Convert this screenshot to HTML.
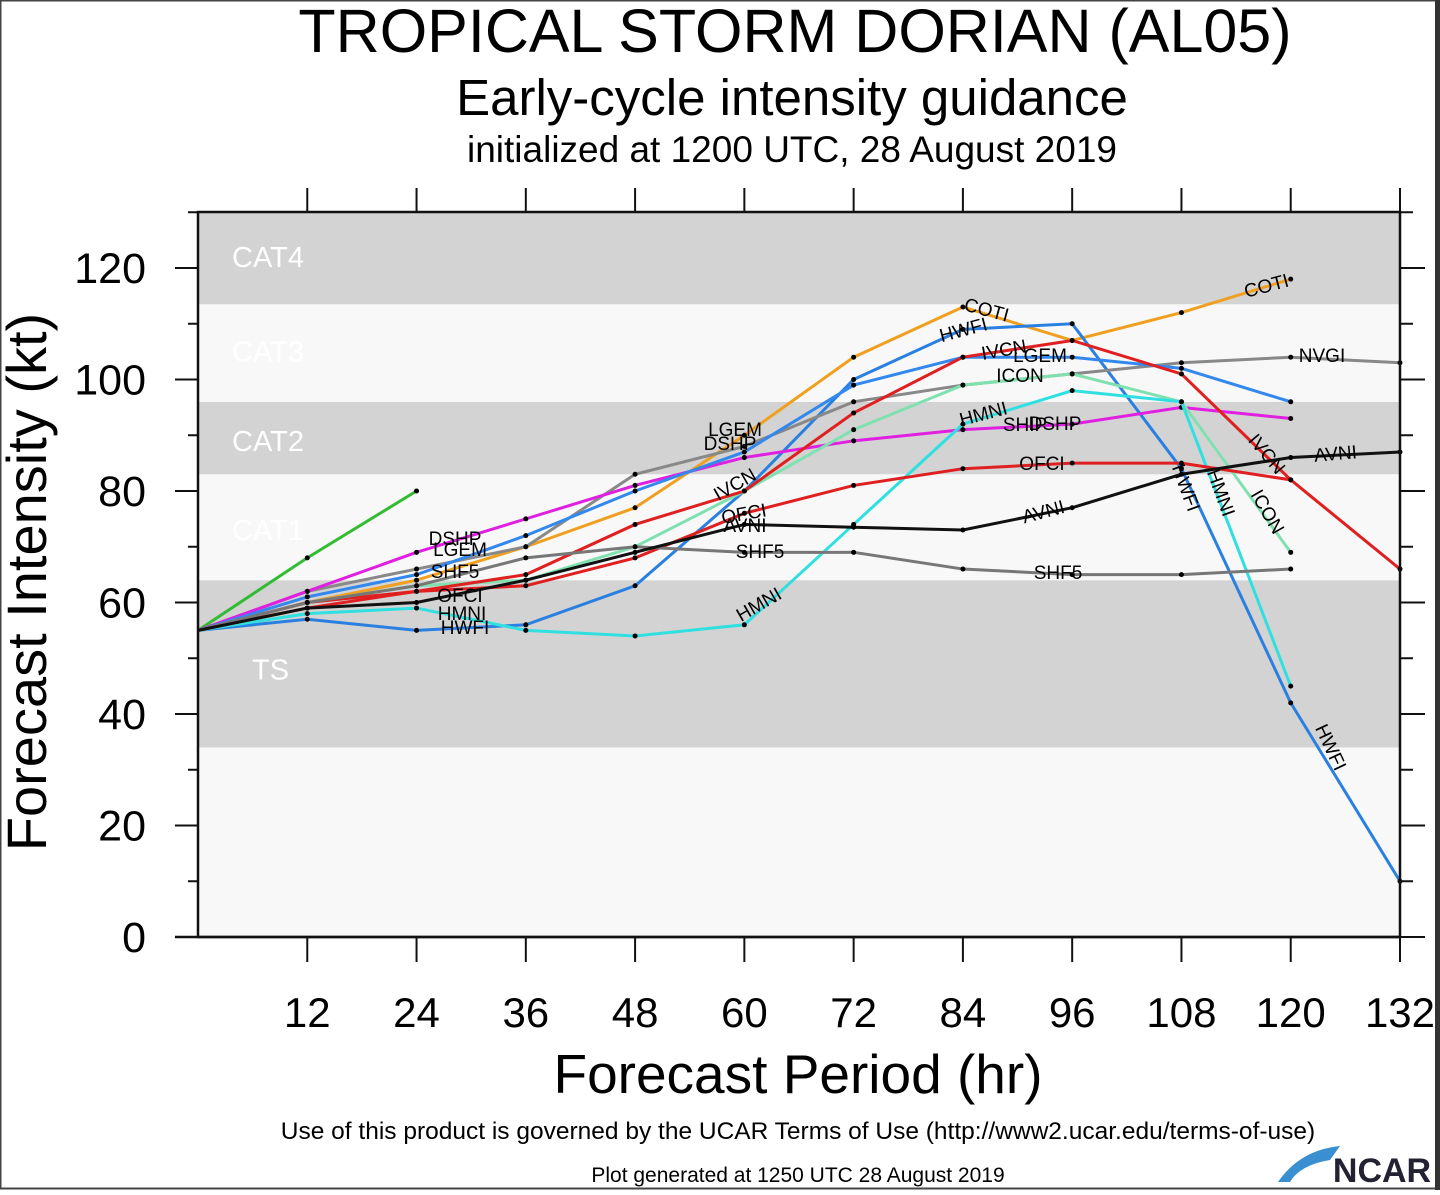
<!DOCTYPE html>
<html><head><meta charset="utf-8"><style>
html,body{margin:0;padding:0;background:#fff;}
body{width:1440px;height:1190px;overflow:hidden;position:relative;font-family:"Liberation Sans",sans-serif;}
svg text{font-family:"Liberation Sans",sans-serif;}
</style></head><body>
<svg id="s" width="1440" height="1190" xmlns="http://www.w3.org/2000/svg">
<rect x="0" y="0" width="1440" height="1190" fill="#fff"/>
<rect x="0.5" y="0.5" width="1436" height="1188" fill="none" stroke="#444" stroke-width="2"/>
<rect x="1435" y="0" width="5" height="1190" fill="#333"/>
<text x="795" y="52" font-size="61" text-anchor="middle">TROPICAL STORM DORIAN (AL05)</text>
<text x="792" y="115" font-size="51" text-anchor="middle">Early-cycle intensity guidance</text>
<text x="792" y="162" font-size="37" text-anchor="middle">initialized at 1200 UTC, 28 August 2019</text>
<g id="plot"></g>
<text x="798" y="1093" font-size="55" text-anchor="middle">Forecast Period (hr)</text>
<text transform="translate(46,582) rotate(-90)" font-size="56" text-anchor="middle">Forecast Intensity (kt)</text>
<text x="798" y="1139" font-size="24.5" text-anchor="middle">Use of this product is governed by the UCAR Terms of Use (http://www2.ucar.edu/terms-of-use)</text>
<text x="798" y="1182" font-size="21" text-anchor="middle">Plot generated at 1250 UTC   28 August 2019</text>
<path d="M1278 1182 Q1300 1150 1340 1146 L1330 1160 Q1300 1165 1290 1182 Z" fill="#3a8fd0"/>
<text x="1382" y="1182" font-size="34" font-weight="bold" fill="#223" text-anchor="middle">NCAR</text>
</svg>
<script>
var X=h=>198+h*9.106, Y=k=>937-k*5.575;
var g=document.getElementById('plot'),out='';
function band(a,b,c){out+=`<rect x="198" y="${Y(b)}" width="1202" height="${Y(a)-Y(b)}" fill="${c}"/>`;}
band(0,34,'#f8f8f8');band(34,64,'#d3d3d3');band(64,83,'#f8f8f8');band(83,96,'#d3d3d3');band(96,113.5,'#f8f8f8');band(113.5,130,'#d3d3d3');
[['CAT4',122],['CAT3',105],['CAT2',89],['CAT1',73],['TS',48]].forEach(c=>{out+=`<text x="${c[0]=='TS'?252:232}" y="${Y(c[1])+10}" font-size="29" fill="#fff">${c[0]}</text>`;});
var S=[
['#33bb33',[[0,55],[12,68],[24,80]]],
['#f0a020',[[0,55],[12,60],[24,64],[36,70],[48,77],[60,90],[72,104],[84,113],[96,107],[108,112],[120,118]]],
['#2a80e0',[[0,55],[12,57],[24,55],[36,56],[48,63],[60,80],[72,100],[84,109],[96,110],[108,84],[120,42],[132,10]]],
['#888888',[[0,55],[12,62],[24,66],[36,70],[48,83],[60,88],[72,96],[84,99],[96,101],[108,103],[120,104],[132,103]]],
['#e020e0',[[0,55],[12,62],[24,69],[36,75],[48,81],[60,86],[72,89],[84,91],[96,92],[108,95],[120,93]]],
['#3388ee',[[0,55],[12,61],[24,65],[36,72],[48,80],[60,87],[72,99],[84,104],[96,104],[108,102],[120,96]]],
['#80e0b0',[[0,55],[12,60],[24,63],[36,64],[48,70],[60,80],[72,91],[84,99],[96,101],[108,96],[120,69]]],
['#30e0e0',[[0,55],[12,58],[24,59],[36,55],[48,54],[60,56],[72,74],[84,92],[96,98],[108,96],[120,45]]],
['#e02020',[[0,55],[12,60],[24,62],[36,65],[48,74],[60,80],[72,94],[84,104],[96,107],[108,101],[120,82]]],
['#e02020',[[0,55],[12,59],[24,62],[36,63],[48,68],[60,76],[72,81],[84,84],[96,85],[108,85],[120,82],[132,66]]],
['#777777',[[0,55],[12,60],[24,63],[36,68],[48,70],[60,69],[72,69],[84,66],[96,65],[108,65],[120,66]]],
['#111111',[[0,55],[12,59],[24,60],[36,64],[48,69],[60,74],[72,73.5],[84,73],[96,77],[108,83],[120,86],[132,87]]]
];
S.forEach(s=>{out+=`<polyline fill="none" stroke="${s[0]}" stroke-width="3" points="${s[1].map(p=>X(p[0])+','+Y(p[1])).join(' ')}"/>`;
s[1].forEach(p=>{if(p[0]>0)out+=`<circle cx="${X(p[0])}" cy="${Y(p[1])}" r="2.5" fill="#000"/>`;});});
var L=[['COTI',1268,292,-15],['NVGI',1322,362,0],['AVNI',1336,460,-5],['COTI',985,316,15],['HWFI',965,336,-15],['IVCN',1005,356,-10],['LGEM',1040,362,0],['ICON',1020,382,0],['HMNI',985,420,-15],['SHIP',1025,431,0],['DSHP',1055,430,0],['OFCI',1042,470,0],['AVNI',1045,518,-15],['SHF5',1058,579,0],['SHF5',760,558,0],['AVNI',745,532,0],['OFCI',745,520,-10],['IVCN',738,490,-30],['HMNI',762,610,-30],['LGEM',735,436,0],['DSHP',730,450,0],['HWFI',1180,490,70],['HMNI',1215,495,70],['ICON',1262,515,60],['IVCN',1262,458,50],['HWFI',1325,750,65],['DSHP',455,545,0],['LGEM',460,556,0],['SHF5',455,578,0],['OFCI',460,602,0],['HWFI',465,634,0],['HMNI',462,620,0]];
L.forEach(l=>{out+=`<text x="${l[1]}" y="${l[2]}" font-size="19" text-anchor="middle" transform="rotate(${l[3]} ${l[1]} ${l[2]})">${l[0]}</text>`;});
out+=`<rect x="198" y="212" width="1202" height="725" fill="none" stroke="#111" stroke-width="2.5"/>`;
out+=`<line x1="175" y1="937" x2="1400" y2="937" stroke="#111" stroke-width="2.5"/>`;
for(var h=12;h<=132;h+=12){out+=`<line x1="${X(h)}" y1="188" x2="${X(h)}" y2="212" stroke="#111" stroke-width="2"/><line x1="${X(h)}" y1="937" x2="${X(h)}" y2="962" stroke="#111" stroke-width="2"/><text x="${X(h)}" y="1027" font-size="42" text-anchor="middle">${h}</text>`;}
for(var k=0;k<=130;k+=10){var maj=k%20==0;out+=`<line x1="${maj?175:188}" y1="${Y(k)}" x2="198" y2="${Y(k)}" stroke="#111" stroke-width="2"/><line x1="1400" y1="${Y(k)}" x2="${maj?1425:1413}" y2="${Y(k)}" stroke="#111" stroke-width="2"/>`;
if(maj)out+=`<text x="146" y="${Y(k)+15}" font-size="43" text-anchor="end">${k}</text>`;}
g.innerHTML=out;
</script>
</body></html>
